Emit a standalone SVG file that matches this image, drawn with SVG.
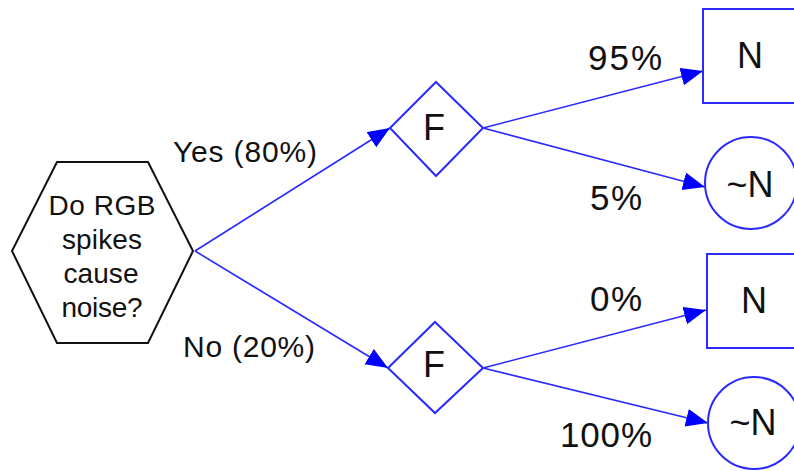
<svg xmlns="http://www.w3.org/2000/svg" width="794" height="471" viewBox="0 0 794 471">
<style>
text{font-family:"Liberation Sans",Arial,sans-serif;fill:#111}
.hex{fill:#fff;stroke:#111;stroke-width:2}
.node{fill:#fff;stroke:#2a2aff;stroke-width:2}
.edge{fill:none;stroke:#2a2aff;stroke-width:1.6}
.ht{font-size:28px;text-anchor:middle}
.lab{font-size:30px}
.pct{font-size:35px}
.big{font-size:36px;text-anchor:middle}
</style>
<defs>
<marker id="arr" markerUnits="userSpaceOnUse" markerWidth="24" markerHeight="20" refX="22" refY="9" orient="auto">
<path d="M0,0 L22,9 L0,18 Z" fill="#0000ff"/>
</marker>
</defs>
<g id="connectors">
<line class="edge" x1="195" y1="251" x2="390" y2="128" marker-end="url(#arr)"/>
<line class="edge" x1="195" y1="251" x2="388" y2="368" marker-end="url(#arr)"/>
<line class="edge" x1="483" y1="128" x2="703" y2="71" marker-end="url(#arr)"/>
<line class="edge" x1="483" y1="128" x2="705" y2="187" marker-end="url(#arr)"/>
<line class="edge" x1="483" y1="368" x2="706" y2="310" marker-end="url(#arr)"/>
<line class="edge" x1="483" y1="368" x2="708" y2="423" marker-end="url(#arr)"/>
<text class="lab" x="173" y="162" textLength="144" lengthAdjust="spacing">Yes (80%)</text>
<text class="lab" x="183" y="357" textLength="132" lengthAdjust="spacing">No (20%)</text>
<text class="pct" x="588" y="70" textLength="74" lengthAdjust="spacing">95%</text>
<text class="pct" x="590" y="210" textLength="52" lengthAdjust="spacing">5%</text>
<text class="pct" x="590" y="311" textLength="52" lengthAdjust="spacing">0%</text>
<text class="pct" x="560" y="447" textLength="92" lengthAdjust="spacing">100%</text>
</g>
<g id="question">
<polygon class="hex" points="57,162 148,162 193,251 148,343 57,343 12,251"/>
<text class="ht" x="102" y="215" textLength="107" lengthAdjust="spacing">Do RGB</text>
<text class="ht" x="102" y="249" textLength="80" lengthAdjust="spacing">spikes</text>
<text class="ht" x="101" y="283" textLength="75" lengthAdjust="spacing">cause</text>
<text class="ht" x="102" y="317" textLength="81" lengthAdjust="spacing">noise?</text>
</g>
<g id="f1">
<polygon class="node" points="436,82 483,128 436,176 390,128"/>
<text class="big" x="434" y="140">F</text>
</g>
<g id="f2">
<polygon class="node" points="435,322 483,368 435,413 388,368"/>
<text class="big" x="434" y="377">F</text>
</g>
<g id="n1">
<rect class="node" x="703" y="9" width="96" height="94"/>
<text class="big" x="750" y="68">N</text>
</g>
<g id="notn1">
<circle class="node" cx="751" cy="183" r="46"/>
<text class="big" x="750" y="197">~N</text>
</g>
<g id="n2">
<rect class="node" x="707" y="254" width="96" height="94"/>
<text class="big" x="754" y="313">N</text>
</g>
<g id="notn2">
<circle class="node" cx="754" cy="423" r="46"/>
<text class="big" x="753" y="435">~N</text>
</g>
</svg>
